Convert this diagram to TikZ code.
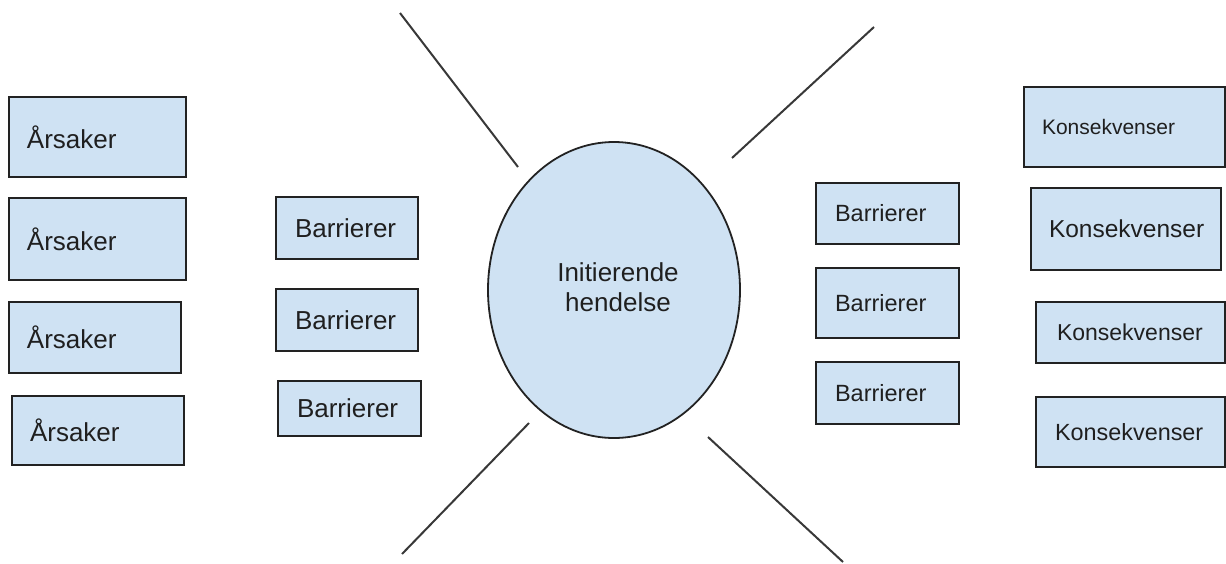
\documentclass[tikz,border=0pt]{standalone}
\usepackage{fontspec}
\setmainfont{Liberation Sans}
\usetikzlibrary{shapes.geometric}
\definecolor{boxfill}{HTML}{CFE2F3}
\definecolor{edge}{HTML}{222222}
\tikzset{
  bx/.style={draw=edge, line width=1.8pt, fill=boxfill, align=left, inner ysep=0pt, text=black!88},
  spoke/.style={draw=edge!90, line width=2pt},
}
\newcommand{\fs}[1]{\fontsize{#1}{#1}\selectfont}
\begin{document}
\begin{tikzpicture}[x=1pt, y=-1pt]
\useasboundingbox (0,0) rectangle (1226,563);
% causes
\node[bx, inner xsep=18pt, text width=141pt, minimum height=80pt, font=\fs{26}] (a1) at (97.5,137) {Årsaker};
\node[bx, inner xsep=18pt, text width=141pt, minimum height=82pt, font=\fs{26}] (a2) at (97.5,239) {Årsaker};
\node[bx, inner xsep=18pt, text width=136pt, minimum height=71pt, font=\fs{26}] (a3) at (95,337.5) {Årsaker};
\node[bx, inner xsep=18pt, text width=136pt, minimum height=69pt, font=\fs{26}] (a4) at (98,430.5) {Årsaker};
% left barriers
\node[bx, inner xsep=19pt, text width=104pt, minimum height=62pt, font=\fs{26}] (bl1) at (347,228) {Barrierer};
\node[bx, inner xsep=19pt, text width=104pt, minimum height=62pt, font=\fs{26}] (bl2) at (347,320) {Barrierer};
\node[bx, inner xsep=19pt, text width=105pt, minimum height=55pt, font=\fs{26}] (bl3) at (349.5,408.5) {Barrierer};
% event
\node[draw=edge, line width=1.8pt, fill=boxfill, ellipse, minimum width=252pt, minimum height=296pt, inner sep=0pt] (ev) at (614,290) {};
\node[align=center, font=\fontsize{26}{30}\selectfont, text=black!88] (evt) at (618,287) {Initierende\\hendelse};
% right barriers
\node[bx, inner xsep=19pt, text width=105pt, minimum height=61pt, font=\fs{23.5}] (br1) at (887.5,213.5) {Barrierer};
\node[bx, inner xsep=19pt, text width=105pt, minimum height=70pt, font=\fs{23.5}] (br2) at (887.5,303) {Barrierer};
\node[bx, inner xsep=19pt, text width=105pt, minimum height=62pt, font=\fs{23.5}] (br3) at (887.5,393) {Barrierer};
% consequences
\node[bx, inner xsep=18pt, text width=165pt, minimum height=80pt, font=\fs{21}] (k1) at (1124.5,127) {Konsekvenser};
\node[bx, inner xsep=18pt, text width=154pt, minimum height=82pt, font=\fs{24.5}] (k2) at (1126,229) {Konsekvenser};
\node[bx, inner xsep=21pt, text width=147pt, minimum height=61pt, font=\fs{23}] (k3) at (1130.5,332.5) {Konsekvenser};
\node[bx, inner xsep=19pt, text width=151pt, minimum height=70pt, font=\fs{23.4}] (k4) at (1130.5,432) {Konsekvenser};
% spokes
\coordinate (tl1) at (400,13);  \coordinate (tl2) at (518,167);
\coordinate (tr1) at (874,27);  \coordinate (tr2) at (732,158);
\coordinate (bl1e) at (529,423); \coordinate (bl2e) at (402,554);
\coordinate (br1e) at (708,437); \coordinate (br2e) at (843,562);
\draw[spoke] (tl1) -- (tl2);
\draw[spoke] (tr1) -- (tr2);
\draw[spoke] (bl1e) -- (bl2e);
\draw[spoke] (br1e) -- (br2e);
\end{tikzpicture}
\end{document}
